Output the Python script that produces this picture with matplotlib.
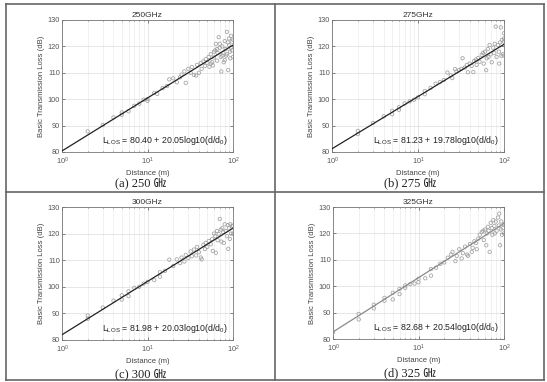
import matplotlib
matplotlib.use('Agg')
import matplotlib.pyplot as plt
import numpy as np
from matplotlib.lines import Line2D

plt.rcParams['font.family'] = ['Liberation Sans', 'DejaVu Sans']
plt.rcParams['mathtext.fontset'] = 'custom'
plt.rcParams['mathtext.rm'] = 'Liberation Sans'
plt.rcParams['mathtext.it'] = 'Liberation Sans:italic'

# ---- data ----
titles = ['250GHz', '275GHz', '300GHz', '325GHz']
captions = ['(a) 250 ㎓', '(b) 275 ㎓', '(c) 300 ㎓', '(d) 325 ㎓']
fit_a = [80.40, 81.23, 81.98, 82.68]
fit_b = [20.05, 19.78, 20.03, 20.54]
fit_colors = ['#222222', '#222222', '#222222', '#8a8a8a']

d_250 = [2, 3, 4, 5, 5, 6, 7, 8, 9, 10, 10, 12, 13, 15, 17, 18, 20, 22, 24, 25,
         27, 28, 30, 32, 33, 35, 37, 38, 40, 42, 43, 45, 47, 48, 50, 52, 53, 55,
         57, 58, 60, 62, 63, 65, 66, 68, 70, 72, 73, 75, 77, 78, 80, 82, 83, 85,
         87, 88, 90, 92, 93, 95, 97, 98, 100, 55, 65, 75, 85, 95, 100, 60, 70, 80, 90]
pl_250 = [87.8, 90.2, 93.1, 94.1, 95.0, 95.4, 97.5, 98.3, 99.8, 100.1, 99.4, 102.4, 102.0,
          104.2, 105.0, 107.5, 107.9, 106.4, 108.3, 109.3, 110.5, 106.2, 111.5, 110.0,
          112.2, 109.2, 109.0, 113.0, 110.0, 113.7, 111.5, 114.3, 112.6, 115.2, 113.8,
          116.0, 112.3, 117.0, 114.0, 112.8, 115.8, 118.5, 121.0, 114.6, 117.5, 123.5,
          119.5, 116.0, 110.5, 120.0, 117.5, 114.0, 122.0, 119.0, 116.5, 125.5, 121.5,
          111.0, 123.0, 118.0, 115.5, 124.0, 118.5, 121.8, 122.5, 113.5, 119.0, 116.5,
          117.0, 119.5, 116.0, 118.0, 121.0, 114.8, 120.5]

d_275 = [2, 2, 3, 4, 5, 5, 6, 6, 7, 8, 9, 10, 12, 12, 14, 16, 18, 20, 22, 24, 25, 27,
         28, 30, 32, 33, 35, 37, 38, 40, 42, 44, 45, 47, 48, 50, 52, 55, 57, 58, 60,
         62, 63, 65, 66, 68, 70, 72, 75, 77, 78, 80, 82, 85, 87, 88, 90, 92, 93, 95,
         97, 100, 100, 100, 100]
pl_275 = [88.0, 86.8, 91.0, 93.5, 94.3, 95.6, 96.0, 97.0, 98.4, 99.2, 99.8, 100.7, 103.1,
          101.9, 104.3, 105.9, 106.5, 107.3, 110.1, 109.0, 108.0, 111.4, 110.5, 111.0,
          111.5, 115.5, 112.0, 113.0, 110.2, 113.5, 112.6, 110.3, 114.5, 115.0, 113.0,
          115.6, 114.2, 116.8, 117.5, 113.5, 118.0, 111.0, 115.5, 119.0, 116.0, 120.5,
          117.0, 114.0, 119.5, 117.5, 121.0, 127.5, 116.0, 120.5, 118.0, 113.5, 121.5,
          127.2, 116.5, 122.5, 117.0, 125.0, 116.5, 121.8, 123.0]

d_300 = [2, 2, 3, 4, 5, 5, 6, 6, 7, 8, 9, 10, 12, 14, 14, 16, 18, 20, 22, 24, 25, 27,
         28, 30, 32, 33, 35, 37, 38, 40, 42, 43, 45, 47, 48, 50, 52, 55, 57, 58, 60,
         62, 63, 65, 66, 68, 70, 72, 73, 75, 77, 78, 80, 82, 85, 87, 88, 90, 92, 93,
         95, 97, 100, 100]
pl_300 = [89.2, 88.0, 92.2, 94.8, 95.2, 96.8, 98.3, 96.5, 99.6, 100.0, 101.2, 101.8, 102.5,
          103.8, 105.5, 106.0, 110.2, 107.8, 110.3, 108.9, 111.0, 109.5, 112.0, 110.8,
          113.3, 111.5, 114.0, 111.8, 115.0, 113.0, 111.0, 110.3, 115.8, 114.2, 116.5,
          115.0, 117.2, 116.0, 118.0, 113.5, 120.0, 119.0, 112.8, 121.0, 117.5, 119.8,
          125.5, 121.5, 117.0, 122.0, 120.5, 116.5, 123.5, 121.0, 119.0, 123.2, 114.3,
          122.0, 118.0, 123.5, 120.0, 122.8, 123.0, 120.0]

d_325 = [1, 2, 2, 3, 3, 4, 4, 5, 5, 6, 6, 7, 7, 8, 9, 10, 10, 12, 14, 14, 16, 18, 20,
         22, 24, 25, 27, 28, 30, 32, 33, 35, 37, 38, 40, 42, 43, 45, 47, 48, 50, 52,
         55, 57, 58, 60, 62, 63, 65, 66, 68, 70, 72, 73, 75, 77, 78, 80, 82, 85, 87,
         88, 90, 92, 93, 95, 97, 100, 100]
pl_325 = [82.5, 89.5, 87.4, 93.0, 91.6, 95.6, 94.5, 97.5, 95.0, 99.0, 97.0, 100.3, 99.4,
          100.8, 101.0, 102.8, 101.5, 103.0, 106.5, 104.0, 107.0, 108.5, 109.0, 110.8,
          112.0, 113.0, 109.5, 111.5, 114.0, 110.5, 112.5, 115.0, 112.0, 111.5, 116.0,
          113.0, 114.5, 117.0, 116.3, 114.0, 118.0, 119.5, 120.5, 121.0, 117.5, 121.5,
          115.5, 120.0, 122.5, 121.0, 113.0, 124.0, 122.0, 119.5, 125.0, 122.8, 120.0,
          124.5, 121.0, 126.0, 123.0, 127.5, 115.5, 121.5, 124.5, 119.5, 122.0, 120.0,
          123.5]

dists = [d_250, d_275, d_300, d_325]
losses = [pl_250, pl_275, pl_300, pl_325]

fig = plt.figure(figsize=(5.47, 3.82), dpi=100)
W, H = 547.0, 382.0

# axes boxes in pixels: left, top, right, bottom
boxes = [(62, 20, 233, 152), (332, 20, 504, 152),
         (62, 207, 233, 340), (333, 207, 504, 339)]
cells = [(6, 275, 183), (275, 544, 183), (6, 275, 374), (275, 544, 373)]

for i in range(4):
    l, t, r, b = boxes[i]
    ax = fig.add_axes([l / W, 1 - b / H, (r - l) / W, (b - t) / H])
    d = np.array(dists[i], dtype=float)
    ax.scatter(d, losses[i], s=6, facecolors='none', edgecolors='#a0a0a0',
               linewidths=0.55, zorder=3)
    xx = np.logspace(0, 2, 50)
    ax.plot(xx, fit_a[i] + fit_b[i] * np.log10(xx), color=fit_colors[i], lw=0.9, zorder=4)
    ax.set_xscale('log')
    ax.set_xlim(1, 100)
    ax.set_ylim(80, 130)
    ax.set_yticks([80, 90, 100, 110, 120, 130])
    ax.set_xticks([1, 10, 100])
    ax.set_xticklabels([r'$\mathregular{10^0}$', r'$\mathregular{10^1}$', r'$\mathregular{10^2}$'])
    ax.grid(True, which='major', color='#dcdcdc', lw=0.5)
    ax.grid(True, which='minor', axis='x', color='#e6e6e6', lw=0.4)
    ax.set_axisbelow(True)
    ax.tick_params(which='both', direction='in', labelsize=5.3, colors='#555555',
                   length=2, width=0.5, pad=1.5, top=True, right=True)
    ax.tick_params(axis='x', which='major', pad=2.5)
    ax.tick_params(which='minor', length=1)
    for sp in ax.spines.values():
        sp.set_color('#777777')
        sp.set_linewidth(0.6)
    ax.set_title(titles[i], fontsize=6, pad=2, color='#333333')
    ax.set_ylabel('Basic Transmission Loss (dB)', fontsize=5.5, labelpad=2, color='#444444')
    ax.set_xlabel('Distance (m)', fontsize=5.5, labelpad=2, color='#444444')
    ax.text(0.97, 0.085,
            r'$\mathregular{L_{LOS}}$ = %.2f + %.2flog10(d/d$\mathregular{_0}$)' % (fit_a[i], fit_b[i]),
            transform=ax.transAxes, ha='right', va='center', fontsize=6.3, color='#222222')
    x0, x1, yc = cells[i]
    fig.text((x0 + x1) / 2 / W, 1 - yc / H, captions[i], ha='center', va='center',
             fontsize=9, family=['Liberation Serif', 'Noto Sans CJK SC'], color='#222222')

# table borders
lc = '#666666'
def seg(x0, y0, x1, y1, lw=1.2):
    fig.add_artist(Line2D([x0 / W, x1 / W], [1 - y0 / H, 1 - y1 / H],
                          transform=fig.transFigure, color=lc, lw=lw))

seg(6, 4, 544, 4)
seg(6, 380, 544, 380)
seg(6, 4, 6, 380)
seg(544, 4, 544, 380)
seg(275, 4, 275, 380)
seg(6, 192, 544, 192)

fig.savefig('out.png', dpi=100)
